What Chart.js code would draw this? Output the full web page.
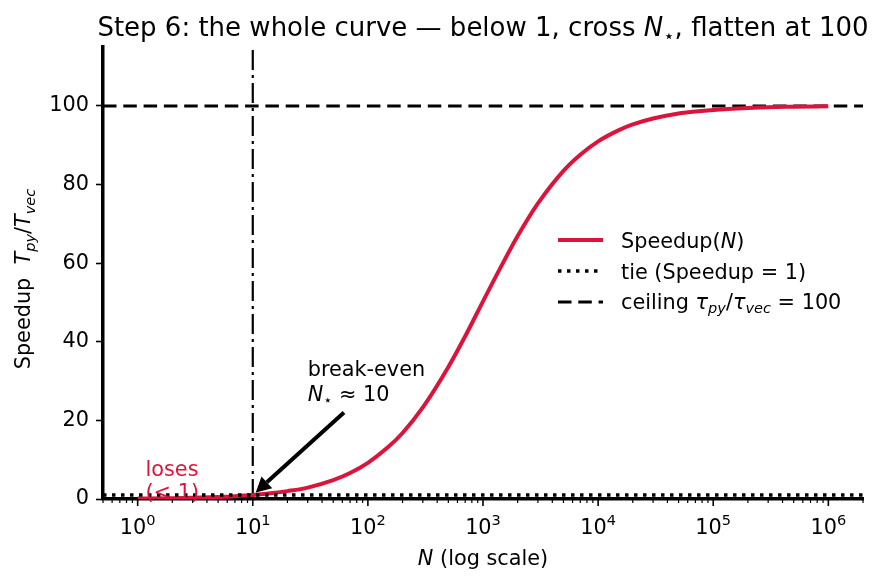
<!DOCTYPE html>
<html><head><meta charset="utf-8">
<script src="https://cdn.jsdelivr.net/npm/chart.js@4/dist/chart.umd.min.js"></script>
<style>html,body{margin:0;padding:0;background:#fff}</style>
</head><body>
<canvas id="c" width="880" height="585" style="width:880px;height:585px;display:block"></canvas>
<script>
// ---- data ----
const sizes   = [1, 2, 3, 5, 7, 10, 15, 20, 30, 50, 70, 100, 150, 200, 300, 500, 700, 1000, 1500, 2000, 3000, 5000, 7000, 1e4, 1.5e4, 2e4, 3e4, 5e4, 7e4, 1e5, 2e5, 3e5, 5e5, 1e6];
const speedup = [0.1, 0.2, 0.3, 0.5, 0.7, 1.0, 1.5, 2.0, 2.9, 4.8, 6.6, 9.2, 13.2, 16.8, 23.3, 33.6, 41.4, 50.3, 60.2, 66.9, 75.2, 83.5, 87.6, 91.0, 93.8, 95.3, 96.8, 98.1, 98.6, 99.0, 99.5, 99.7, 99.8, 99.9];
const xLimits = [0.5, 2e6];
const yLimits = [0, 115];
const yTickValues = [0, 20, 40, 60, 80, 100];
const xMajorExponents = [0, 1, 2, 3, 4, 5, 6];
const tieLevel = 1;
const ceilingLevel = 100;
const breakEvenN = 10;
const annotText = {x: 30, y: 25};
const annotArrowFrom = {x: 62, y: 22};
const losesText = {x: 1.17, y: 0.0};

const RED = '#DC143C';
const FONT = '"DejaVu Sans", sans-serif';
const BASE = 20.8;
const TITLE = 26;

function fontFor(r, base) {
  const size = (r.sub || r.sup) ? base * 0.7 : base;
  return (r.it ? 'italic ' : '') + size + 'px ' + FONT;
}
function runsWidth(ctx, runs, base) {
  let w = 0;
  for (const r of runs) { ctx.font = fontFor(r, base); w += ctx.measureText(r.t).width; }
  return w;
}
function drawRuns(ctx, runs, x, y, base, align, color) {
  const w = runsWidth(ctx, runs, base);
  let cx = align === 'center' ? x - w / 2 : (align === 'right' ? x - w : x);
  ctx.fillStyle = color;
  ctx.textBaseline = 'alphabetic';
  ctx.textAlign = 'left';
  for (const r of runs) {
    ctx.font = fontFor(r, base);
    const dy = r.sub ? base * 0.22 : (r.sup ? -base * 0.45 : 0);
    ctx.fillText(r.t, cx, y + dy);
    cx += ctx.measureText(r.t).width;
  }
}

const overlay = {
  id: 'overlay',
  afterDraw(chart) {
    const ctx = chart.ctx;
    const xs = chart.scales.x, ys = chart.scales.y;
    const area = chart.chartArea;
    ctx.save();
    // x ticks (major + minor)
    ctx.strokeStyle = '#000';
    for (let e = -1; e <= 6; e++) {
      for (let m = 1; m <= 9; m++) {
        const v = m * Math.pow(10, e);
        if (v < xLimits[0] || v > xLimits[1]) continue;
        const px = xs.getPixelForValue(v);
        const major = m === 1;
        ctx.lineWidth = major ? 1.6 : 1.2;
        ctx.beginPath();
        ctx.moveTo(px, area.bottom);
        ctx.lineTo(px, area.bottom + (major ? 7 : 4));
        ctx.stroke();
      }
    }
    // x tick labels 10^e
    for (const e of xMajorExponents) {
      const px = xs.getPixelForValue(Math.pow(10, e));
      drawRuns(ctx, [{t: '10'}, {t: String(e), sup: true}], px, area.bottom + 35, BASE, 'center', '#000');
    }
    // x axis title
    drawRuns(ctx, [{t: 'N', it: true}, {t: ' (log scale)'}], (area.left + area.right) / 2, 565, BASE, 'center', '#000');
    // y axis title (rotated)
    ctx.save();
    ctx.translate(30, 279);
    ctx.rotate(-Math.PI / 2);
    drawRuns(ctx, [{t: 'Speedup  '}, {t: 'T', it: true}, {t: 'py', it: true, sub: true}, {t: '/'}, {t: 'T', it: true}, {t: 'vec', it: true, sub: true}], 0, 0, BASE, 'center', '#000');
    ctx.restore();
    // title
    drawRuns(ctx, [{t: 'Step 6: the whole curve \u2014 below 1, cross '}, {t: 'N', it: true}, {t: '\u22c6', sub: true}, {t: ', flatten at 100'}], (area.left + area.right) / 2, 36, TITLE, 'center', '#000');

    // legend
    const lx0 = 558, lx1 = 603, tx = 621;
    const rows = [240, 271, 302];
    ctx.lineCap = 'butt';
    ctx.strokeStyle = RED; ctx.lineWidth = 4; ctx.setLineDash([]);
    ctx.beginPath(); ctx.moveTo(lx0, rows[0]); ctx.lineTo(lx1, rows[0]); ctx.stroke();
    ctx.strokeStyle = '#000'; ctx.lineWidth = 3.5; ctx.setLineDash([3.5, 5.5]);
    ctx.beginPath(); ctx.moveTo(lx0, rows[1]); ctx.lineTo(lx1, rows[1]); ctx.stroke();
    ctx.lineWidth = 3; ctx.setLineDash([13.5, 6.8]);
    ctx.beginPath(); ctx.moveTo(lx0, rows[2]); ctx.lineTo(lx1, rows[2]); ctx.stroke();
    ctx.setLineDash([]);
    drawRuns(ctx, [{t: 'Speedup('}, {t: 'N', it: true}, {t: ')'}], tx, rows[0] + 7.5, BASE, 'left', '#000');
    drawRuns(ctx, [{t: 'tie (Speedup = 1)'}], tx, rows[1] + 7.5, BASE, 'left', '#000');
    drawRuns(ctx, [{t: 'ceiling '}, {t: '\u03c4', it: true}, {t: 'py', it: true, sub: true}, {t: '/'}, {t: '\u03c4', it: true}, {t: 'vec', it: true, sub: true}, {t: ' = 100'}], tx, rows[2] + 6.5, BASE, 'left', '#000');

    // annotation: break-even
    const ax = xs.getPixelForValue(annotText.x), ay = ys.getPixelForValue(annotText.y);
    drawRuns(ctx, [{t: 'break-even'}], ax, ay - 25, BASE, 'left', '#000');
    drawRuns(ctx, [{t: 'N', it: true}, {t: '\u22c6', sub: true}, {t: ' \u2248 10'}], ax, ay, BASE, 'left', '#000');
    // arrow
    const sx = xs.getPixelForValue(annotArrowFrom.x), sy = ys.getPixelForValue(annotArrowFrom.y);
    let ex = xs.getPixelForValue(breakEvenN), ey = ys.getPixelForValue(tieLevel);
    const ang = Math.atan2(ey - sy, ex - sx);
    ex -= Math.cos(ang) * 4; ey -= Math.sin(ang) * 4;
    const hl = 15, hw = 8;
    const bx = ex - Math.cos(ang) * hl, by = ey - Math.sin(ang) * hl;
    ctx.strokeStyle = '#000'; ctx.lineWidth = 4;
    ctx.beginPath(); ctx.moveTo(sx, sy); ctx.lineTo(bx, by); ctx.stroke();
    ctx.fillStyle = '#000';
    ctx.beginPath();
    ctx.moveTo(ex, ey);
    ctx.lineTo(bx + Math.sin(ang) * hw, by - Math.cos(ang) * hw);
    ctx.lineTo(bx - Math.sin(ang) * hw, by + Math.cos(ang) * hw);
    ctx.closePath(); ctx.fill();

    // loses text
    const lx = xs.getPixelForValue(losesText.x), ly = ys.getPixelForValue(losesText.y);
    drawRuns(ctx, [{t: 'loses'}], lx, ly - 23, BASE, 'left', RED);
    drawRuns(ctx, [{t: '(< 1)'}], lx, ly, BASE, 'left', RED);
    ctx.restore();
  }
};

const curve = sizes.map((n, i) => ({x: n, y: speedup[i]}));
const tieLine = xLimits.map(x => ({x, y: tieLevel}));
const ceilLine = xLimits.map(x => ({x, y: ceilingLevel}));
const breakLine = yLimits.map(y => ({x: breakEvenN, y}));

new Chart(document.getElementById('c'), {
  type: 'line',
  data: {
    datasets: [
      {data: breakLine, borderColor: '#000', borderWidth: 2.2, borderDash: [20, 5, 3, 5], pointRadius: 0, fill: false, order: 4},
      {data: ceilLine, borderColor: '#000', borderWidth: 3, borderDash: [13.5, 6.8], pointRadius: 0, fill: false, order: 3},
      {data: curve, borderColor: RED, borderWidth: 4, pointRadius: 0, cubicInterpolationMode: 'monotone', fill: false, order: 2},
      {data: tieLine, borderColor: '#000', borderWidth: 3.5, borderDash: [3.5, 5.5], pointRadius: 0, fill: false, order: 1}
    ]
  },
  options: {
    responsive: false,
    devicePixelRatio: 1,
    animation: false,
    layout: {padding: {left: 0, right: 17, top: 47, bottom: 0}},
    plugins: {legend: {display: false}, title: {display: false}, tooltip: {enabled: false}},
    scales: {
      x: {
        type: 'logarithmic', min: xLimits[0], max: xLimits[1],
        grid: {display: false},
        ticks: {display: false},
        border: {display: true, color: '#000', width: 3.5},
        afterFit(s) { s.height = 86; }
      },
      y: {
        type: 'linear', min: yLimits[0], max: yLimits[1],
        afterBuildTicks(s) { s.ticks = yTickValues.map(v => ({value: v})); },
        ticks: {color: '#000', font: {family: 'DejaVu Sans', size: BASE}, padding: 7, callback: v => String(v)},
        grid: {drawOnChartArea: false, drawTicks: true, tickLength: 7, tickColor: '#000', tickWidth: 1.6},
        border: {display: true, color: '#000', width: 3.5},
        afterFit(s) { s.width = 103; }
      }
    }
  },
  plugins: [overlay]
});
</script>
</body></html>
